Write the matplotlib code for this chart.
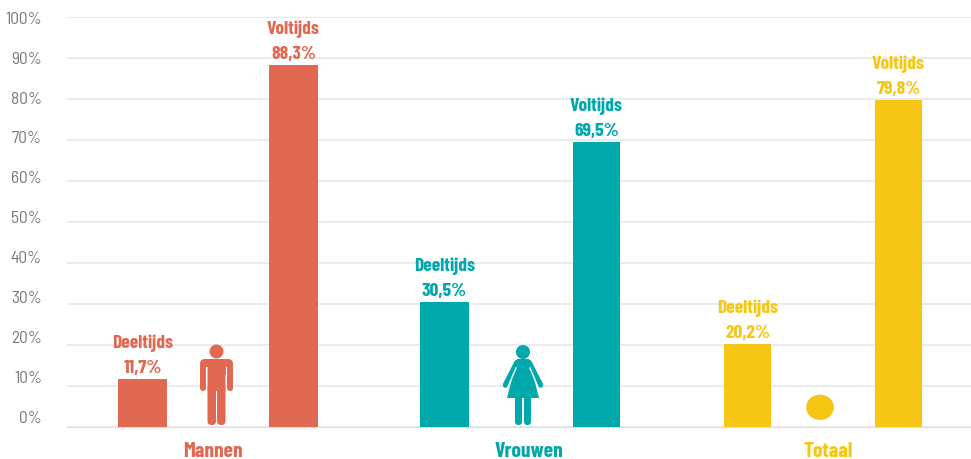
import matplotlib
matplotlib.use('Agg')
import matplotlib.pyplot as plt
from matplotlib.patches import Circle, FancyBboxPatch, Polygon, Ellipse

bold_font = ['Barlow Condensed', 'Liberation Sans Narrow', 'Liberation Sans', 'DejaVu Sans']
tick_font = ['Barlow Semi Condensed', 'Open Sans', 'DejaVu Sans']

groups = ['Mannen', 'Vrouwen', 'Totaal']
deeltijds = [11.7, 30.5, 20.2]
voltijds = [88.3, 69.5, 79.8]
deel_labels = ['11,7%', '30,5%', '20,2%']
vol_labels = ['88,3%', '69,5%', '79,8%']
y_ticks = [0, 10, 20, 30, 40, 50, 60, 70, 80, 90, 100]
colors = ['#e16952', '#00a7ab', '#f5c613']

# pixel layout of the original
W, H = 971, 460
deel_x = [142.5, 444.5, 747.5]
vol_x = [293.5, 596.5, 898.5]
deel_w = [49, 49, 47]
vol_w = [49, 47, 47]
group_x = [213, 529, 828]


def rounded(ax, x0, y0, x1, y1, r, c):
    ax.add_patch(FancyBboxPatch((x0 + r, y0 + r), x1 - x0 - 2 * r, y1 - y0 - 2 * r,
                                boxstyle='round,pad={0},rounding_size={0}'.format(r),
                                fc=c, lw=0))


fig = plt.figure(figsize=(W / 100, H / 100), dpi=100)
ax = fig.add_axes([67 / W, (H - 428) / H, (W - 67) / W, 410 / H])
ax.set_xlim(67, W)
ax.set_ylim(0, 100)

ax.bar(deel_x, deeltijds, deel_w, color=colors, zorder=3)
ax.bar(vol_x, voltijds, vol_w, color=colors, zorder=3)

for i in range(len(groups)):
    for x, v, lab, name in [(deel_x[i], deeltijds[i], deel_labels[i], 'Deeltijds'),
                            (vol_x[i], voltijds[i], vol_labels[i], 'Voltijds')]:
        ax.annotate(lab, (x, v), xytext=(0, 5), textcoords='offset points', ha='center', va='baseline',
                    fontsize=14, fontweight='bold', family=bold_font, color=colors[i], zorder=4)
        ax.annotate(name, (x, v), xytext=(0, 23), textcoords='offset points', ha='center', va='baseline',
                    fontsize=14, fontweight='bold', family=bold_font, color=colors[i], zorder=4)

ax.set_yticks(y_ticks)
ax.set_yticklabels([])
ax.set_xticks([])
ax.tick_params(axis='y', length=0)
ax.grid(axis='y', color='#e6e7eb', lw=1.2, zorder=0)
for s in ['top', 'right', 'left']:
    ax.spines[s].set_visible(False)
ax.spines['bottom'].set_color('#dcdde1')
ax.set_axisbelow(True)

# overlay in pixels for the pictograms and the loose labels
ov = fig.add_axes([0, 0, 1, 1])
ov.set_xlim(0, W)
ov.set_ylim(H, 0)
ov.axis('off')

# the tick labels sit on their own spacing, not on the gridlines
for k, t in enumerate(y_ticks):
    ov.text(42, 419 - 40 * k, '{0}%'.format(t), ha='right', va='center', fontsize=12.5,
            family=tick_font, color='#77787b')

for i in range(len(groups)):
    ov.text(group_x[i], 457, groups[i], ha='center', va='baseline', fontsize=15.5, fontweight='bold',
            family=bold_font, color=colors[i])

# man
c = colors[0]
ov.add_patch(Circle((216.5, 352.5), 7, fc=c, lw=0))
rounded(ov, 200, 360, 233, 376, 5, c)
rounded(ov, 200, 366, 206, 392, 3, c)
rounded(ov, 227, 366, 233, 392, 3, c)
ov.add_patch(Polygon([[206, 368], [207.5, 368], [207.5, 393], [206, 393]], fc='white', lw=0))
ov.add_patch(Polygon([[225.5, 368], [227, 368], [227, 393], [225.5, 393]], fc='white', lw=0))
rounded(ov, 207.5, 364, 225.5, 392, 1, c)
rounded(ov, 207.5, 385, 216, 426, 4, c)
rounded(ov, 217, 385, 225.5, 426, 4, c)

# woman
c = colors[1]
ov.add_patch(Circle((523, 353), 7, fc=c, lw=0))
ov.add_patch(Polygon([[517, 360], [529, 360], [539, 399], [507, 399]], fc=c, lw=0))
ov.plot([517, 505.5], [363.5, 386], color=c, lw=4, solid_capstyle='round')
ov.plot([529, 540.5], [363.5, 386], color=c, lw=4, solid_capstyle='round')
ov.plot([516, 508], [369, 388], color='white', lw=1)
ov.plot([530, 538], [369, 388], color='white', lw=1)
rounded(ov, 515, 395, 522, 426, 3.5, c)
rounded(ov, 524, 395, 531, 426, 3.5, c)

# total dot
ov.add_patch(Ellipse((820, 408.3), 27.7, 25.3, fc=colors[2], lw=0))

fig.savefig('out.png', dpi=100)
